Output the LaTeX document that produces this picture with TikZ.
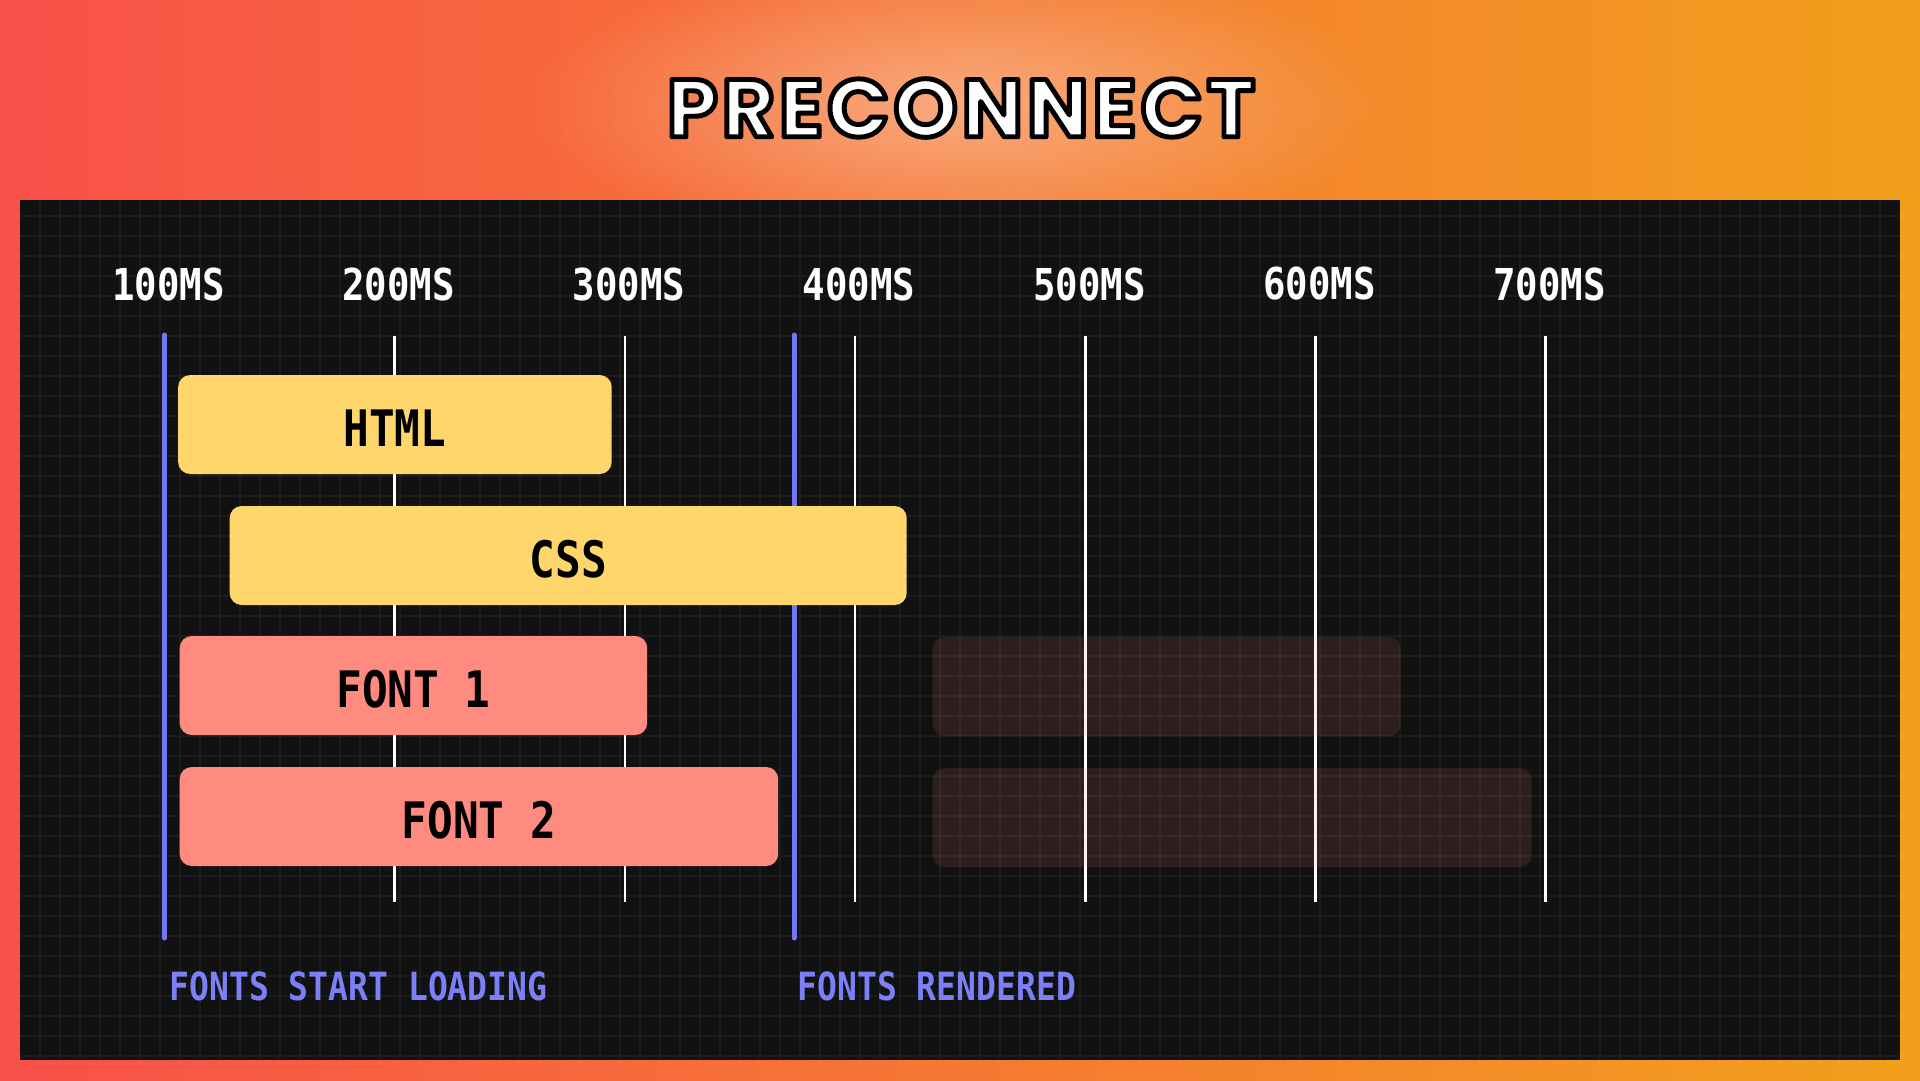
\documentclass[tikz,border=0pt]{standalone}
\usepackage{fontspec}
\usetikzlibrary{positioning, fadings}

\newfontfamily\titlefont{Poppins}[LetterSpace=5.0]
\newfontfamily\labelfont{DejaVu Sans Mono}[FakeStretch=0.85]

\definecolor{bgleft}{HTML}{F9504A}
\definecolor{bgright}{HTML}{F2A01C}
\definecolor{glowc}{HTML}{FBC0A0}
\definecolor{panelc}{HTML}{111111}
\definecolor{gridc}{HTML}{1C1C1C}
\definecolor{barY}{HTML}{FFD66B}
\definecolor{barR}{HTML}{FF8A80}
\definecolor{markB}{HTML}{7279EE}
\definecolor{labelB}{HTML}{7C80F7}

\tikzfading[name=glowfade, inner color=transparent!30, outer color=transparent!100]

% white letters with a black rim
\newcommand\rimtext[1]{\color{white}\special{pdf:literal direct 2 Tr 1.4 w 1 j 0 0 0 RG}#1\special{pdf:literal direct 0 Tr}}

\begin{document}
\begin{tikzpicture}[
    x=0.1mm, y=-0.1mm,
    bar/.style={rounded corners=3.4pt, inner sep=0pt, minimum height=9.9mm, anchor=west,
                text height=12.4pt, text depth=0pt,
                font=\labelfont\bfseries\fontsize{14.3}{16}\selectfont, text=black},
    webbar/.style={bar, fill=barY},
    fontbar/.style={bar, fill=barR},
    ghostbar/.style={bar, fill=barR, fill opacity=0.12},
    mslabel/.style={font=\labelfont\bfseries\fontsize{12.5}{14}\selectfont, text=white},
    msline/.style={draw=white, line width=0.7pt},
    eventline/.style={draw=markB, line width=1.42pt, line cap=round},
    eventlabel/.style={anchor=west, inner sep=0pt, font=\labelfont\bfseries\fontsize{11.05}{13}\selectfont, text=labelB},
    gridline/.style={draw=gridc, line width=0.3pt}
]
  \useasboundingbox (0,0) rectangle (1920,1080);

  % background
  \shade[left color=bgleft, right color=bgright] (0,0) rectangle (1920,1080);
  \fill[glowc, path fading=glowfade] (961,105) ellipse [x radius=430, y radius=150];

  % title
  \node (title) at (961,108) {\titlefont\bfseries\fontsize{23.2}{26}\selectfont\rimtext{PRECONNECT}};

  % panel and grid
  \fill[panelc] (20,200) rectangle (1900,1060);
  \foreach \gx in {40,60,...,1880}
    \draw[gridline] (\gx,200) -- (\gx,1060);
  \foreach \gy in {216,236,...,1056}
    \draw[gridline] (20,\gy) -- (1900,\gy);

  % time axis
  \foreach \t [count=\i from 0] in {100,200,...,700} {
    \node[mslabel] (ms\t) at ({168.5+\i*230.2},284) {\t MS};
  }
  \foreach \i in {1,...,6}
    \draw[msline] ({164.5+\i*230.2},336) -- ({164.5+\i*230.2},902);

  % event markers
  \draw[eventline] (164.5,335) -- (164.5,938);
  \draw[eventline] (794,335) -- (794,938);

  % requests
  \node[webbar, minimum width=43.35mm] (html) at (177.5,424.5) {HTML};
  \node[webbar, minimum width=67.7mm] (css) at (229,555.5) {CSS};
  \node[fontbar, minimum width=46.75mm] (font1) at (179,685.5) {FONT 1};
  \node[fontbar, minimum width=59.85mm] (font2) at (179,816.5) {FONT 2};
  \node[ghostbar, minimum width=46.8mm] (ghost1) at (932,686.5) {};
  \node[ghostbar, minimum width=59.9mm] (ghost2) at (932,817.5) {};

  % event labels
  \node[eventlabel] (startload) at (169,986) {FONTS START LOADING};
  \node[eventlabel] (rendered) at (797,986) {FONTS RENDERED};
\end{tikzpicture}
\end{document}
